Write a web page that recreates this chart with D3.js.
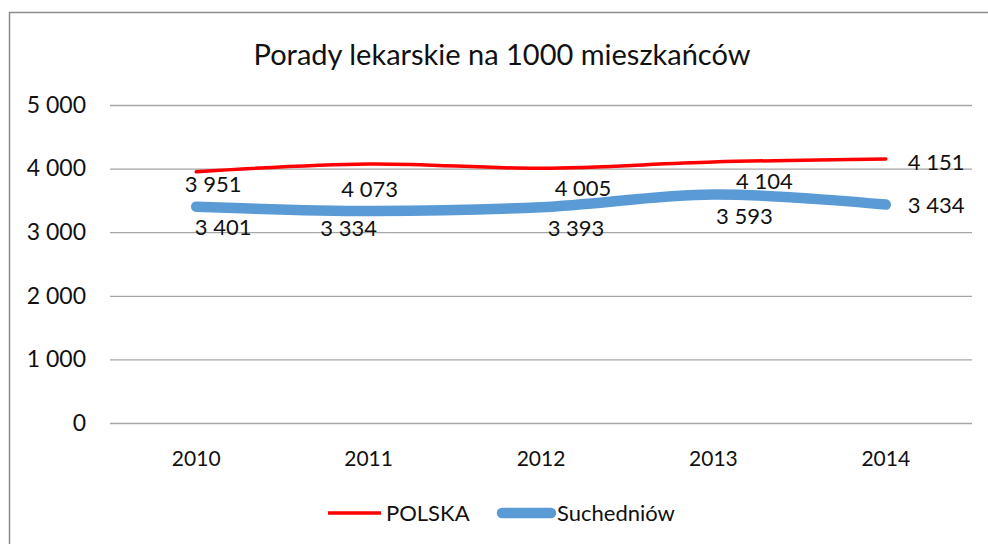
<!DOCTYPE html>
<html lang="pl">
<head>
<meta charset="UTF-8">
<title>Porady lekarskie na 1000 mieszkańców</title>
<script src="https://d3js.org/d3.v7.min.js"></script>
<style>
  body { margin: 0; background: #fff; }
  svg { display: block; font-family: Lato, "Open Sans", sans-serif; }
</style>
</head>
<body>
<svg id="chart" width="988" height="544"></svg>
<script>
// chart data
const years = ["2010", "2011", "2012", "2013", "2014"];
const polska = [3951, 4073, 4005, 4104, 4151];
const suchedniow = [3401, 3334, 3393, 3593, 3434];
const yTicks = [0, 1000, 2000, 3000, 4000, 5000];
const seriesNames = ["POLSKA", "Suchedniów"];

const svg = d3.select("#chart");
const fmt = v => d3.format(",")(v).replace(/,/g, " ");

// outer frame (only top and left visible in the original crop)
svg.append("rect")
    .attr("x", 9.5).attr("y", 12.5)
    .attr("width", 1000).attr("height", 560)
    .attr("fill", "none")
    .attr("stroke", "#8c8c8c")
    .attr("stroke-width", 1.5);

// title
svg.append("text")
    .attr("x", 502).attr("y", 65)
    .attr("text-anchor", "middle")
    .style("font-size", "29px")
    .attr("fill", "#111")
    .text("Porady lekarskie na 1000 mieszkańców");

const x = d3.scaleBand().domain(years).range([110, 972]);
const y = d3.scaleLinear().domain([0, 5000]).range([423, 105]);
const cx = d => x(d) + x.bandwidth() / 2;

// gridlines + y labels
const yAxis = svg.append("g")
    .attr("transform", "translate(110,0)")
    .call(d3.axisLeft(y).tickValues(yTicks).tickFormat(fmt).tickSize(-862).tickPadding(24));
yAxis.select(".domain").remove();
yAxis.selectAll("line").attr("stroke", "#a6a6a6").attr("stroke-width", 1.3);
yAxis.selectAll("text").style("font-size", "23px").attr("fill", "#111").attr("font-family", "Lato, sans-serif");

// x labels
const xAxis = svg.append("g")
    .attr("transform", "translate(0,423)")
    .call(d3.axisBottom(x).tickSize(0).tickPadding(28));
xAxis.select(".domain").remove();
xAxis.selectAll("text").style("font-size", "21px").attr("fill", "#111").attr("font-family", "Lato, sans-serif");

const line = d3.line()
    .x((d, i) => cx(years[i]))
    .y(d => y(d))
    .curve(d3.curveCatmullRom.alpha(0.5));

// Suchedniów (thick blue)
svg.append("path")
    .datum(suchedniow)
    .attr("d", line)
    .attr("fill", "none")
    .attr("stroke", "#5b9bd5")
    .attr("stroke-width", 10.5)
    .attr("stroke-linecap", "round");

// POLSKA (red)
svg.append("path")
    .datum(polska)
    .attr("d", line)
    .attr("fill", "none")
    .attr("stroke", "#ff0000")
    .attr("stroke-width", 3.5)
    .attr("stroke-linecap", "round");

// data labels, nudged like the hand-placed labels of the original
const redNudge = [[17, 13], [1, 25], [42, 20], [51, 19], [22, 3]];
const blueNudge = [[27, 21], [-20, 17], [35, 21], [31, 22], [22, 1]];
function labels(values, nudge) {
    const last = values.length - 1;
    svg.append("g").selectAll("text")
        .data(values)
        .join("text")
        .attr("x", (d, i) => cx(years[i]) + nudge[i][0])
        .attr("y", (d, i) => y(d) + nudge[i][1])
        .attr("dy", "0.35em")
        .attr("text-anchor", (d, i) => i === last ? "start" : "middle")
        .style("font-size", "22px")
        .attr("fill", "#111")
        .text(fmt);
}
labels(polska, redNudge);
labels(suchedniow, blueNudge);

// legend
const legend = svg.append("g");
legend.append("line")
    .attr("x1", 328).attr("x2", 381).attr("y1", 513).attr("y2", 513)
    .attr("stroke", "#ff0000").attr("stroke-width", 3.5);
legend.append("text")
    .attr("x", 386).attr("y", 513).attr("dy", "0.35em")
    .style("font-size", "22px").attr("fill", "#111")
    .text(seriesNames[0]);
legend.append("line")
    .attr("x1", 502).attr("x2", 551).attr("y1", 513).attr("y2", 513)
    .attr("stroke", "#5b9bd5").attr("stroke-width", 10.5).attr("stroke-linecap", "round");
legend.append("text")
    .attr("x", 557).attr("y", 513).attr("dy", "0.35em")
    .style("font-size", "22px").attr("fill", "#111")
    .text(seriesNames[1]);
</script>
</body>
</html>
